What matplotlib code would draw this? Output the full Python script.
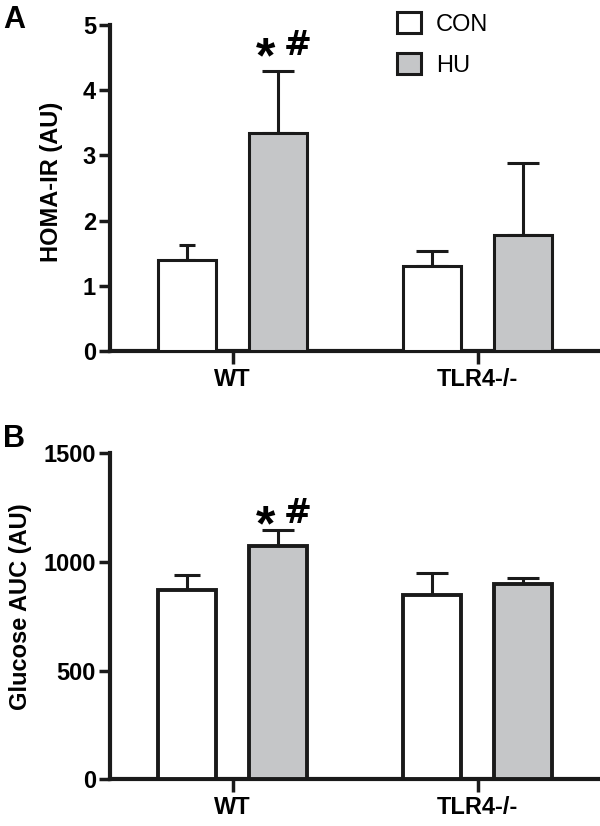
import numpy as np
import matplotlib
matplotlib.use('Agg')
import matplotlib.pyplot as plt
from matplotlib.patches import Patch

# データ
groups = ['WT', 'TLR4-/-']
series_names = ['CON', 'HU']

homa_con = [1.40, 1.30]
homa_con_err = [0.22, 0.24]
homa_hu = [3.34, 1.78]
homa_hu_err = [0.95, 1.10]

auc_con = [870, 847]
auc_con_err = [69, 100]
auc_hu = [1075, 900]
auc_hu_err = [71, 28]

# 有意差マーク (WT HU の上)
sig_star = '*'
sig_hash = '#'

plt.rcParams['font.family'] = ['Liberation Sans', 'DejaVu Sans']

GRAY = '#c5c6c8'
INK = '#1a1a1a'
FS = 17

fig = plt.figure(figsize=(6.0, 8.26), dpi=100)

x = np.arange(len(groups))
off = 0.186
w = 0.237


def draw_panel(ax, con, con_err, hu, hu_err, edge_lw, caps_con, caps_hu):
    ax.bar(x - off, con, w, color='white', edgecolor=INK, linewidth=edge_lw, zorder=3)
    ax.bar(x + off, hu, w, color=GRAY, edgecolor=INK, linewidth=edge_lw, zorder=3)
    # 上向きのエラーバーのみ
    for i in range(len(groups)):
        ax.errorbar(x[i] - off, con[i], yerr=[[0], [con_err[i]]], fmt='none',
                    ecolor=INK, elinewidth=2.2, capsize=caps_con[i], capthick=2.2, zorder=2)
        ax.errorbar(x[i] + off, hu[i], yerr=[[0], [hu_err[i]]], fmt='none',
                    ecolor=INK, elinewidth=2.2, capsize=caps_hu[i], capthick=2.2, zorder=2)
    ax.set_xlim(-0.5, 1.5)
    ax.set_xticks(x)
    ax.set_xticklabels(groups, fontsize=FS, fontweight='bold')
    for s in ['top', 'right']:
        ax.spines[s].set_visible(False)
    for s in ['left', 'bottom']:
        ax.spines[s].set_linewidth(3)
        ax.spines[s].set_color(INK)
    ax.tick_params(axis='y', length=8, width=2.5, pad=2, color=INK)
    ax.tick_params(axis='x', length=9, width=2.5, pad=3, color=INK)


# パネル A: HOMA-IR
axA = fig.add_axes([110 / 600, 1 - 351 / 826, 490 / 600, 326 / 826])
draw_panel(axA, homa_con, homa_con_err, homa_hu, homa_hu_err, 2.2, [6, 11.5], [11.5, 11.5])
axA.set_ylim(0, 5)
axA.set_yticks([0, 1, 2, 3, 4, 5])
axA.set_yticklabels(['0', '1', '2', '3', '4', '5'], fontsize=FS, fontweight='bold')
axA.set_ylabel('HOMA-IR (AU)', fontsize=FS, fontweight='bold')
axA.yaxis.set_label_coords(-0.096, 0.52)
axA.text(x[0] + off - 0.05, 4.28, sig_star, fontsize=36, fontweight='bold', ha='center', va='baseline')
axA.text(x[0] + off + 0.08, 4.54, sig_hash, fontsize=24, fontweight='bold', ha='center', va='baseline',
         family='DejaVu Sans')

# パネル B: Glucose AUC
axB = fig.add_axes([110 / 600, 1 - 779.3 / 826, 490 / 600, 326 / 826])
draw_panel(axB, auc_con, auc_con_err, auc_hu, auc_hu_err, 2.8, [9.5, 11.5], [11.5, 11.5])
axB.set_ylim(0, 1500)
axB.set_yticks([0, 500, 1000, 1500])
axB.set_yticklabels(['0', '500', '1000', '1500'], fontsize=FS, fontweight='bold')
axB.set_ylabel('Glucose AUC (AU)', fontsize=FS, fontweight='bold')
axB.yaxis.set_label_coords(-0.159, 0.53)
axB.text(x[0] + off - 0.05, 1100, sig_star, fontsize=36, fontweight='bold', ha='center', va='baseline')
axB.text(x[0] + off + 0.08, 1179, sig_hash, fontsize=24, fontweight='bold', ha='center', va='baseline',
         family='DejaVu Sans')

# パネル記号
fig.text(3 / 600, 1 - 5 / 826, 'A', fontsize=22, fontweight='bold', ha='left', va='top')
fig.text(3 / 600, 1 - 424 / 826, 'B', fontsize=22, fontweight='bold', ha='left', va='top')

# 凡例
handles = [Patch(facecolor='white', edgecolor=INK, linewidth=2.2),
           Patch(facecolor=GRAY, edgecolor=INK, linewidth=2.2)]
fig.legend(handles, series_names, loc='upper left', bbox_to_anchor=(397 / 600, 1 - 12 / 826),
           frameon=False, fontsize=FS, handlelength=1.0, handleheight=1.0,
           handletextpad=0.65, labelspacing=0.75, borderpad=0, borderaxespad=0)

fig.savefig('out.png', dpi=100)
plt.close(fig)
